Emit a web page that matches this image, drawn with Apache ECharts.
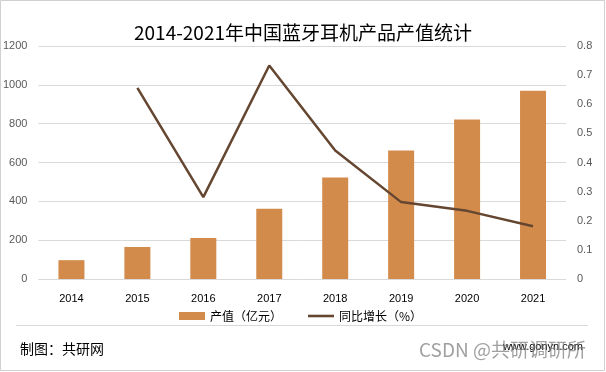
<!DOCTYPE html>
<html>
<head>
<meta charset="utf-8">
<script src="https://cdn.jsdelivr.net/npm/echarts@6/dist/echarts.min.js"></script>
<style>html,body{margin:0;padding:0;background:#fff;}#c{width:606px;height:372px;}</style>
</head>
<body>
<div id="c"></div>
<script>
const years = ['2014','2015','2016','2017','2018','2019','2020','2021'];
const outputValue = [97, 165, 211, 362, 523, 662, 821, 970];
const growthRate = [null, 0.656, 0.281, 0.733, 0.441, 0.264, 0.234, 0.181];
const leftTicks = [0, 200, 400, 600, 800, 1000, 1200];
const rightTicks = [0, 0.1, 0.2, 0.3, 0.4, 0.5, 0.6, 0.7, 0.8];

const chart = echarts.init(document.getElementById('c'));
const font = '"Liberation Sans", "Noto Sans CJK SC", sans-serif';
chart.setOption({
  backgroundColor: '#fff',
  animation: false,
  title: {
    text: '2014-2021年中国蓝牙耳机产品产值统计',
    left: 'center', top: 18,
    textStyle: { fontFamily: '"Noto Sans CJK SC", sans-serif', fontSize: 19, fontWeight: 'normal', color: '#000' }
  },
  legend: {
    top: 305, left: 174, itemGap: 26, itemWidth: 26, itemHeight: 8,
    textStyle: { fontFamily: '"Noto Sans CJK SC", sans-serif', fontSize: 12, color: '#000' },
    data: [
      { name: '产值（亿元）', icon: 'rect' },
      { name: '同比增长（%）', icon: 'path://M0,0 L10,0 L10,1 L0,1 Z' }
    ]
  },
  grid: { left: 38, right: 40, top: 46, height: 233 },
  xAxis: {
    type: 'category', data: years,
    axisLine: { show: false }, axisTick: { show: false },
    axisLabel: { fontFamily: font, fontSize: 11, color: '#000', margin: 14 }
  },
  yAxis: [
    { type: 'value', min: leftTicks[0], max: leftTicks[leftTicks.length - 1], interval: 200,
      axisLabel: { fontFamily: font, fontSize: 11, color: '#595959', margin: 11, formatter: v => String(v) },
      splitLine: { lineStyle: { color: '#d9d9d9', width: 1 } },
      axisLine: { show: false }, axisTick: { show: false } },
    { type: 'value', min: rightTicks[0], max: rightTicks[rightTicks.length - 1], interval: 0.1,
      axisLabel: { fontFamily: font, fontSize: 11, color: '#595959', margin: 11,
        formatter: v => (Math.round(v * 10) / 10).toString() },
      splitLine: { show: false }, axisLine: { show: false }, axisTick: { show: false } }
  ],
  series: [
    { name: '产值（亿元）', type: 'bar', data: outputValue, barWidth: 26,
      itemStyle: { color: '#D38B4C' } },
    { name: '同比增长（%）', type: 'line', yAxisIndex: 1, data: growthRate,
      symbol: 'none', lineStyle: { color: '#654631', width: 2.5 }, itemStyle: { color: '#654631' } }
  ],
  graphic: [
    { type: 'rect', shape: { x: 0.5, y: 0.5, width: 604, height: 370 }, style: { fill: null, stroke: '#d0d0d0', lineWidth: 1 } },
    { type: 'line', shape: { x1: 16, y1: 325.5, x2: 588, y2: 325.5 }, style: { stroke: '#d9d9d9', lineWidth: 1 } },
    { type: 'text', left: 20, top: 342, style: { text: '制图：共研网', font: '14px "Noto Sans CJK SC"', fill: '#000' } },
    { type: 'text', right: 23, top: 341, style: { text: 'www.gonyn.com', font: '11px "Liberation Sans"', fill: '#000' } },
    { type: 'text', left: 419, top: 340, style: { text: 'CSDN @共研调研所', font: '19px "Noto Sans CJK SC"', fill: 'rgba(120,120,120,0.7)' } }
  ]
});
</script>
</body>
</html>
